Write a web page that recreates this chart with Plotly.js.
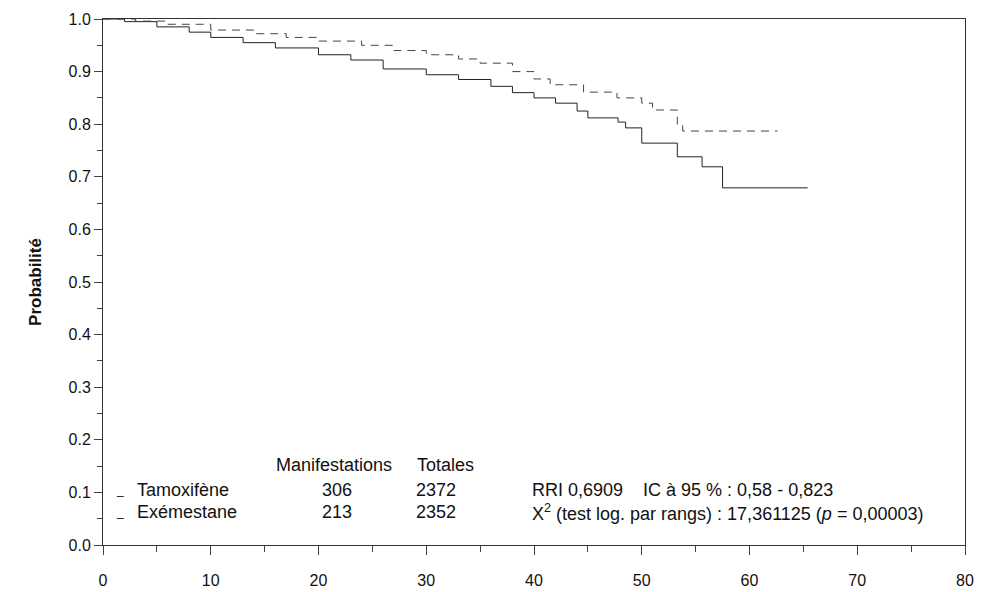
<!DOCTYPE html>
<html><head><meta charset="utf-8">
<script src="https://cdn.plot.ly/plotly-3.0.1.min.js"></script>
<style>body{margin:0}#g{width:985px;height:592px}</style>
</head><body><div id="g"></div>
<script>
// Kaplan-Meier step data
var tamoT = [0, 2, 5, 8, 10, 13, 16, 20, 23, 26, 30, 33, 36, 38, 40, 42, 44, 45, 47.8, 48.5, 50, 53.3, 55.6, 57.5, 65.4];
var tamoP = [1, 0.995, 0.985, 0.975, 0.965, 0.955, 0.945, 0.932, 0.922, 0.905, 0.894, 0.885, 0.872, 0.86, 0.85, 0.84, 0.825, 0.812, 0.804, 0.793, 0.764, 0.738, 0.719, 0.679, 0.679];
var exeT = [0, 3, 6, 10, 14, 17, 20, 24, 27, 30, 33, 35, 38, 40, 41.5, 44.6, 47.7, 50, 51, 53.3, 53.8, 62.6];
var exeP = [1, 0.996, 0.99, 0.979, 0.972, 0.965, 0.958, 0.95, 0.94, 0.932, 0.924, 0.916, 0.9, 0.886, 0.875, 0.861, 0.85, 0.84, 0.827, 0.80, 0.787, 0.787];

var font = 'Liberation Sans, Arial, sans-serif';
var traces = [
  {x: tamoT, y: tamoP, mode: 'lines', line: {shape: 'hv', color: '#222', width: 1}, name: 'Tamoxifène'},
  {x: exeT, y: exeP, mode: 'lines', line: {shape: 'hv', color: '#444', width: 1, dash: '8px,6px'}, name: 'Exémestane'}
];

function ann(text, x, y, xa, size) {
  return {text: text, x: x, y: y, xref: 'x', yref: 'y', xanchor: xa || 'left', yanchor: 'middle', showarrow: false, font: {size: size || 18, color: '#111', family: font}};
}
var annotations = [
  ann('Manifestations', 21.4, 0.152, 'center'),
  ann('Totales', 31.8, 0.152, 'center'),
  ann('Tamoxifène', 3.0, 0.105),
  ann('306', 21.7, 0.105, 'center'),
  ann('2372', 30.9, 0.105, 'center'),
  ann('Exémestane', 3.0, 0.062),
  ann('213', 21.7, 0.062, 'center'),
  ann('2352', 30.9, 0.062, 'center'),
  ann('RRI 0,6909    IC à 95 % : 0,58 - 0,823', 39.6, 0.105),
  ann('X<sup>2</sup> (test log. par rangs) : 17,361125 (<i>p</i> = 0,00003)', 39.6, 0.062),
  ann('_', 1.0, 0.105, 'left', 12), ann('_', 1.0, 0.062, 'left', 12)
];

var layout = {
  width: 985, height: 592,
  margin: {l: 103, r: 20, t: 19, b: 47},
  paper_bgcolor: 'white', plot_bgcolor: 'white',
  showlegend: false,
  font: {family: font, size: 16, color: '#111'},
  annotations: annotations,
  xaxis: {range: [0, 80], tickvals: [0, 10, 20, 30, 40, 50, 60, 70, 80], ticks: 'outside', ticklen: 9,
    minor: {dtick: 5, ticks: 'outside', ticklen: 6}, showgrid: false, zeroline: false,
    showline: true, mirror: true, linecolor: '#333', tickfont: {size: 16}, ticklabelstandoff: 12},
  yaxis: {range: [0, 1], dtick: 0.1, tickformat: '.1f', ticks: 'outside', ticklen: 8,
    minor: {dtick: 0.05, ticks: 'outside', ticklen: 5}, showgrid: false, zeroline: false,
    showline: true, mirror: true, linecolor: '#333', tickfont: {size: 16},
    title: {text: '<b>Probabilité</b>', font: {size: 17}, standoff: 22}}
};
Plotly.newPlot('g', traces, layout, {displayModeBar: false});
</script></body></html>
